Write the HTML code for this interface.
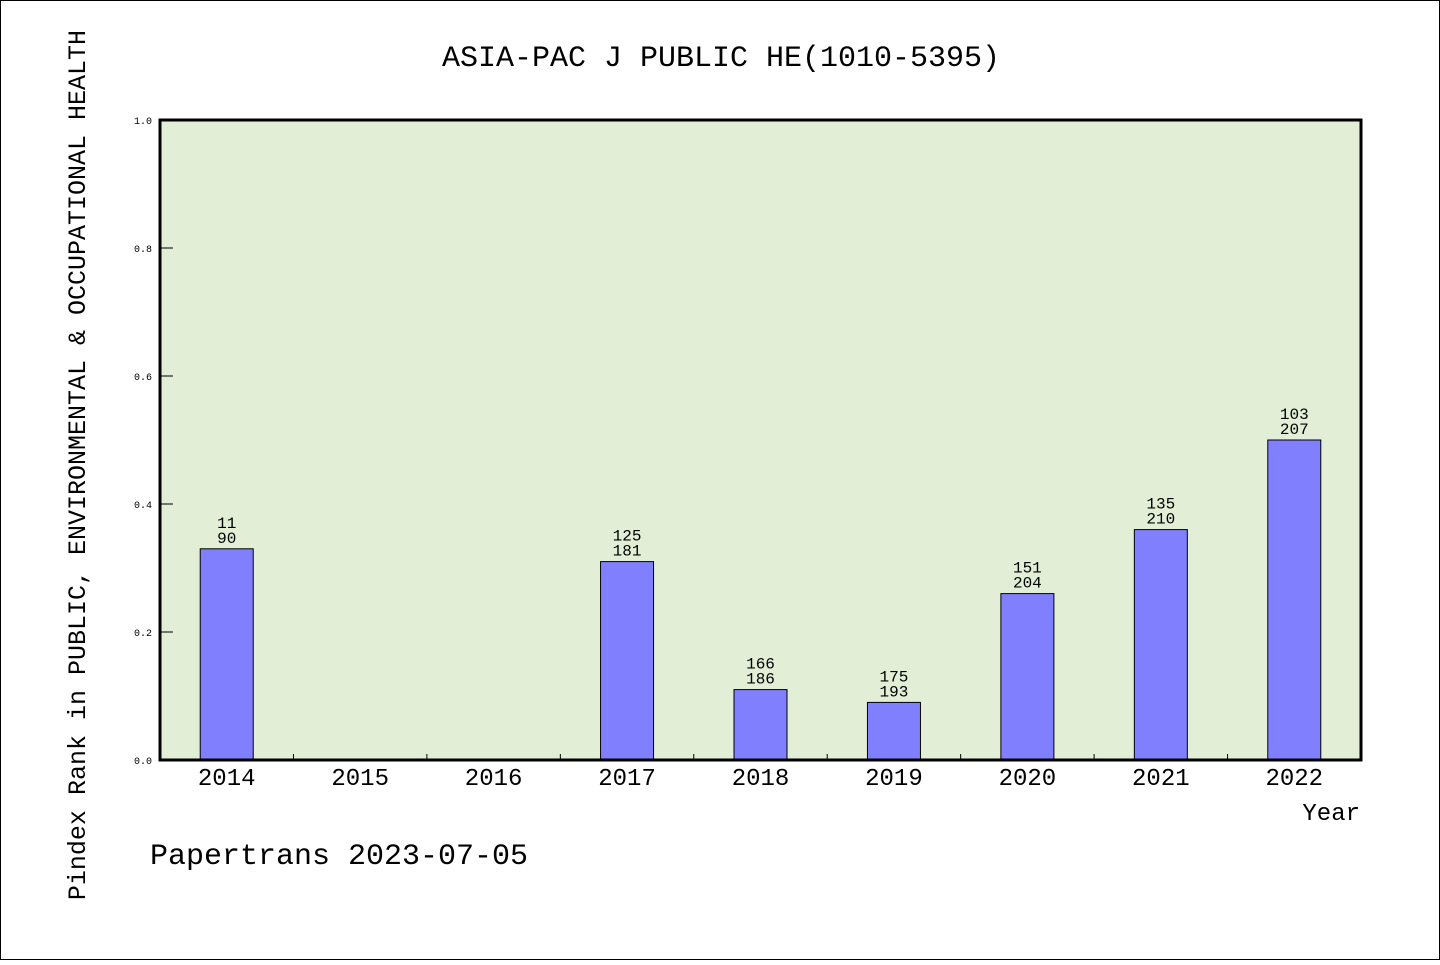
<!DOCTYPE html>
<html><head><meta charset="utf-8"><style>
html,body{margin:0;padding:0;background:#fff;}
svg text{font-family:"Liberation Mono","WenQuanYi Zen Hei",monospace;fill:#000;}
</style></head><body>
<svg id="chart" width="1440" height="960" xmlns="http://www.w3.org/2000/svg">
<rect x="0.5" y="0.5" width="1439" height="959" fill="#fff" stroke="#000" stroke-width="1"/>
<text x="721" y="66" font-size="30" text-anchor="middle">ASIA-PAC J PUBLIC HE(1010-5395)</text>
<rect x="160" y="120" width="1201" height="640" fill="#e2efd6"/>
<g id="marks"></g>
<rect x="160" y="120" width="1201" height="640" fill="none" stroke="#000" stroke-width="3"/>
<text transform="translate(85,465) rotate(-90)" font-size="25" text-anchor="middle">Pindex Rank in PUBLIC, ENVIRONMENTAL &amp; OCCUPATIONAL HEALTH</text>
<text x="1360" y="820" font-size="24" text-anchor="end">Year</text>
<text x="150" y="864" font-size="30">Papertrans 2023-07-05</text>
</svg>
<script>
const categories=["2014","2015","2016","2017","2018","2019","2020","2021","2022"];
const values=[0.33,null,null,0.31,0.11,0.09,0.26,0.36,0.5];
const ranks=["11","","","125","166","175","151","135","103"];
const totals=["90","","","181","186","193","204","210","207"];
const yTicks=[0,0.2,0.4,0.6,0.8,1.0];
const X0=160,W=1201,Y0=760,H=640;
const band=W/categories.length;
const xs=i=>X0+band*(i+0.5);
const ys=v=>Y0-v*H;
const g=document.getElementById('marks');
const NS="http://www.w3.org/2000/svg";
function mk(t,a){const e=document.createElementNS(NS,t);for(const k in a)e.setAttribute(k,a[k]);g.appendChild(e);return e;}
yTicks.forEach(t=>{
 const l=mk('line',{x1:X0,x2:X0+13,y1:ys(t),y2:ys(t),stroke:'#000','stroke-width':1});
 
 
 const tx=mk('text',{x:X0-8,y:ys(t)+4,'font-size':10,'text-anchor':'end'});
 tx.textContent=t.toFixed(1);
 
 
});
categories.forEach((c,i)=>{
 if(i>0){const l=mk('line',{x1:X0+band*i,x2:X0+band*i,y1:Y0,y2:Y0-6,stroke:'#000','stroke-width':1});
 
 }
 const tx=mk('text',{x:xs(i),y:Y0+25,'font-size':24,'text-anchor':'middle'});
 tx.textContent=c;
 
 
 const v=values[i];
 if(v!=null){
  const r=mk('rect',{x:xs(i)-26.5,y:ys(v),width:53,height:v*H,fill:'#8080ff',stroke:'#000','stroke-width':1});
  
  
  const a=mk('text',{x:xs(i),y:ys(v)-21,'font-size':16,'text-anchor':'middle'});
  a.textContent=ranks[i];
  
  
  const b=mk('text',{x:xs(i),y:ys(v)-6,'font-size':16,'text-anchor':'middle'});
  b.textContent=totals[i];
  
  
 }
});
</script>
</body></html>
